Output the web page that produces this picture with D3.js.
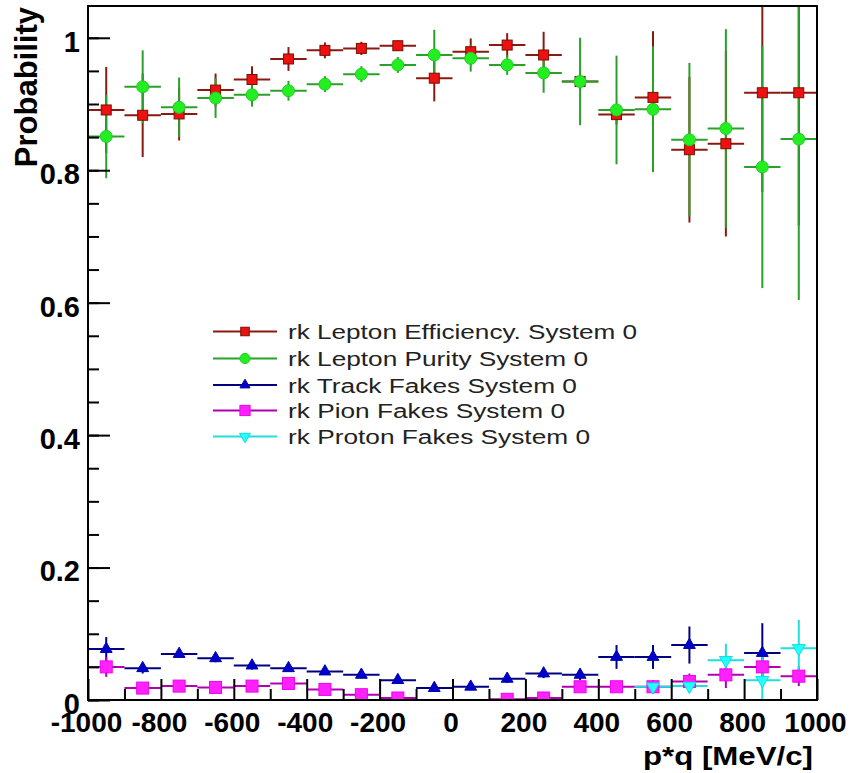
<!DOCTYPE html>
<html lang="en">
  <head>
    <title>Probability vs p*q</title>
    <script src="https://d3js.org/d3.v7.min.js"></script>
    <style>
      body { margin: 0; background: #fff; }
      svg { display: block; font-family: "Liberation Sans", Arial, Helvetica, sans-serif; }
    </style>
  </head>
  <body>
    <svg id="chart" width="853" height="773"></svg>
    <script>
// bin centres in MeV/c (20 bins of 100)
var binCenters = [-950, -850, -750, -650, -550, -450, -350, -250, -150, -50,
                  50, 150, 250, 350, 450, 550, 650, 750, 850, 950];
var binHalfWidth = 50;

var effVals = [0.891, 0.883, 0.885, 0.921, 0.937, 0.968, 0.981, 0.984, 0.988, 0.939,
               0.979, 0.989, 0.974, 0.934, 0.884, 0.910, 0.831, 0.840, 0.917, 0.917];
var effErrs = [0.065, 0.063, 0.04, 0.025, 0.02, 0.018, 0.012, 0.01, 0.008, 0.035,
               0.02, 0.018, 0.035, 0.012, 0.015, 0.10, 0.11, 0.14, 0.15, 0.2];

var purVals = [0.851, 0.926, 0.895, 0.909, 0.914, 0.920, 0.930, 0.945, 0.959, 0.974,
               0.969, 0.959, 0.947, 0.934, 0.891, 0.892, 0.846, 0.863, 0.805, 0.847];
var purErrs = [0.063, 0.055, 0.045, 0.03, 0.018, 0.015, 0.012, 0.012, 0.012, 0.038,
               0.02, 0.015, 0.03, 0.066, 0.082, 0.095, 0.116, 0.15, 0.183, 0.243];

var trackVals = [0.077, 0.048, 0.0695, 0.063, 0.052, 0.048, 0.043, 0.038, 0.030, 0.018,
                 0.020, 0.032, 0.040, 0.038, 0.065, 0.065, 0.083, null, 0.071, null];
var trackErrs = [0.018, 0.008, 0.006, 0.006, 0.006, 0.005, 0.005, 0.005, 0.005, 0.005,
                 0.005, 0.006, 0.007, 0.008, 0.018, 0.018, 0.028, null, 0.045, null];

var pionVals = [0.050, 0.018, 0.021, 0.019, 0.021, 0.025, 0.016, 0.008, 0.003, null,
                null, 0.001, 0.003, 0.020, 0.020, 0.020, 0.028, 0.038, 0.050, 0.036];
var pionErrs = [0.015, 0.008, 0.006, 0.006, 0.006, 0.006, 0.006, 0.006, 0.006, null,
                null, 0.006, 0.006, 0.008, 0.008, 0.01, 0.012, 0.02, 0.03, 0.015];

var protVals = [null, null, null, null, null, null, null, null, null, null,
                null, null, null, null, null, 0.020, 0.021, 0.060, 0.030, 0.078];
var protErrs = [null, null, null, null, null, null, null, null, null, null,
                null, null, null, null, null, 0.008, 0.01, 0.025, 0.04, 0.043];

var seriesNames = ["rk Lepton Efficiency. System 0", "rk Lepton Purity System 0",
                   "rk Track Fakes System 0", "rk Pion Fakes System 0", "rk Proton Fakes System 0"];

var yTicks = [0, 0.2, 0.4, 0.6, 0.8, 1];
var xTicks = [-1000, -800, -600, -400, -200, 0, 200, 400, 600, 800, 1000];

window.onload = function() {
  var svg = d3.select("#chart");
  var left = 88, right = 817, top = 6, bottom = 700;

  var x = d3.scaleLinear().domain([-1000, 1000]).range([left, right]);
  var y = d3.scaleLinear().domain([0, 1.048]).range([bottom, top]);

  svg.append("rect").attr("width", 853).attr("height", 773).attr("fill", "#fff");

  var series = [
    {vals: effVals, errs: effErrs, marker: "square", fill: "#ee1111", stroke: "#7a1000", line: "#8a1a10", size: 10},
    {vals: purVals, errs: purErrs, marker: "circle", fill: "#22ee22", stroke: "#22cc22", line: "#2aa02a", size: 12},
    {vals: trackVals, errs: trackErrs, marker: "tri", fill: "#0000cc", stroke: "#0000aa", line: "#000080", size: 11},
    {vals: pionVals, errs: pionErrs, marker: "square", fill: "#ff22ff", stroke: "#ee00ee", line: "#b000b0", size: 12},
    {vals: protVals, errs: protErrs, marker: "itri", fill: "#22ffff", stroke: "#11dddd", line: "#22dddd", size: 12}
  ];

  function drawMarker(g, type, cx, cy, s, fill, stroke) {
    if (type === "square") {
      g.append("rect").attr("x", cx - s / 2).attr("y", cy - s / 2)
        .attr("width", s).attr("height", s)
        .attr("fill", fill).attr("stroke", stroke).attr("stroke-width", 1);
    } else if (type === "circle") {
      g.append("circle").attr("cx", cx).attr("cy", cy).attr("r", s / 2)
        .attr("fill", fill).attr("stroke", stroke).attr("stroke-width", 1);
    } else {
      var sym = d3.symbol().type(d3.symbolTriangle).size(s * s * 0.5);
      g.append("path").attr("d", sym())
        .attr("transform", "translate(" + cx + "," + cy + ")" + (type === "itri" ? " rotate(180)" : ""))
        .attr("fill", fill).attr("stroke", stroke).attr("stroke-width", 1);
    }
  }

  var plot = svg.append("g");
  var clip = svg.append("clipPath").attr("id", "clip").append("rect")
    .attr("x", left).attr("y", top).attr("width", right - left).attr("height", bottom - top);
  plot.attr("clip-path", "url(#clip)");

  // error bars first, then markers
  series.forEach(function(s) {
    var g = plot.append("g");
    binCenters.forEach(function(c, i) {
      var v = s.vals[i];
      if (v === null) return;
      var e = s.errs[i];
      g.append("line")
        .attr("x1", x(c - binHalfWidth)).attr("x2", x(c + binHalfWidth))
        .attr("y1", y(v)).attr("y2", y(v))
        .attr("stroke", s.line).attr("stroke-width", 2);
      g.append("line")
        .attr("x1", x(c)).attr("x2", x(c))
        .attr("y1", y(v - e)).attr("y2", y(v + e))
        .attr("stroke", s.line).attr("stroke-width", 2);
    });
  });
  series.forEach(function(s) {
    var g = plot.append("g");
    binCenters.forEach(function(c, i) {
      var v = s.vals[i];
      if (v === null) return;
      drawMarker(g, s.marker, x(c), y(v), s.size, s.fill, s.stroke);
    });
  });

  // y axis: major and minor ticks pointing inward
  var yMinor = d3.range(0, 1.05, 0.05);
  svg.append("g").attr("transform", "translate(" + left + ",0)")
    .call(d3.axisLeft(y).tickValues(yMinor).tickSizeInner(-11).tickSizeOuter(0).tickFormat(""))
    .call(g => g.select(".domain").remove())
    .selectAll("line").attr("stroke", "#000").attr("stroke-width", 2);

  var yAx = svg.append("g").attr("transform", "translate(" + left + ",0)")
    .call(d3.axisLeft(y).tickValues(yTicks).tickSizeInner(-22).tickSizeOuter(0).tickPadding(8)
      .tickFormat(d => String(d)));
  yAx.select(".domain").remove();
  yAx.selectAll("line").attr("stroke", "#000").attr("stroke-width", 2);
  yAx.selectAll("text").attr("font-size", 29).attr("font-weight", "bold")
    .attr("fill", "#000").attr("dy", "0.46em")
    .attr("font-family", "'Liberation Sans', Arial, sans-serif");

  // x axis
  var xMinor = d3.range(-900, 1000, 200);
  svg.append("g").attr("transform", "translate(0," + bottom + ")")
    .call(d3.axisBottom(x).tickValues(xMinor).tickSizeInner(-11).tickSizeOuter(0).tickFormat(""))
    .call(g => g.select(".domain").remove())
    .selectAll("line").attr("stroke", "#000").attr("stroke-width", 2);

  var xAx = svg.append("g").attr("transform", "translate(0," + bottom + ")")
    .call(d3.axisBottom(x).tickValues(xTicks).tickSizeInner(-21).tickSizeOuter(0).tickPadding(12)
      .tickFormat(d => String(d)));
  xAx.select(".domain").remove();
  xAx.selectAll("line").attr("stroke", "#000").attr("stroke-width", 2);
  xAx.selectAll("text").attr("font-size", 28).attr("font-weight", "bold")
    .attr("fill", "#000").attr("dx", "-2")
    .attr("font-family", "'Liberation Sans', Arial, sans-serif");

  // frame
  svg.append("rect").attr("x", left).attr("y", top)
    .attr("width", right - left).attr("height", bottom - top)
    .attr("fill", "none").attr("stroke", "#000").attr("stroke-width", 2);

  // axis titles
  svg.append("text")
    .attr("x", 813).attr("y", 765).attr("text-anchor", "end")
    .attr("font-size", 26).attr("font-weight", "bold")
    .attr("textLength", 170).attr("lengthAdjust", "spacingAndGlyphs")
    .text("p*q [MeV/c]");

  svg.append("text")
    .attr("transform", "translate(37,7) rotate(-90)")
    .attr("text-anchor", "end")
    .attr("font-size", 31).attr("font-weight", "bold")
    .text("Probability");

  // legend
  var legRows = [331.5, 358.5, 385, 410.5, 436.5];
  var legWidths = [349, 300, 289, 277, 302];
  var leg = svg.append("g");
  series.forEach(function(s, i) {
    var ly = legRows[i];
    leg.append("line").attr("x1", 213).attr("x2", 277).attr("y1", ly).attr("y2", ly)
      .attr("stroke", s.line).attr("stroke-width", 2);
    drawMarker(leg, s.marker, 245, ly, s.size * 0.85, s.fill, s.stroke);
    leg.append("text")
      .attr("x", 288).attr("y", ly + 7.5)
      .attr("font-size", 20).attr("fill", "#222")
      .attr("textLength", legWidths[i]).attr("lengthAdjust", "spacingAndGlyphs")
      .text(seriesNames[i]);
  });
};
    </script>
  </body>
</html>
